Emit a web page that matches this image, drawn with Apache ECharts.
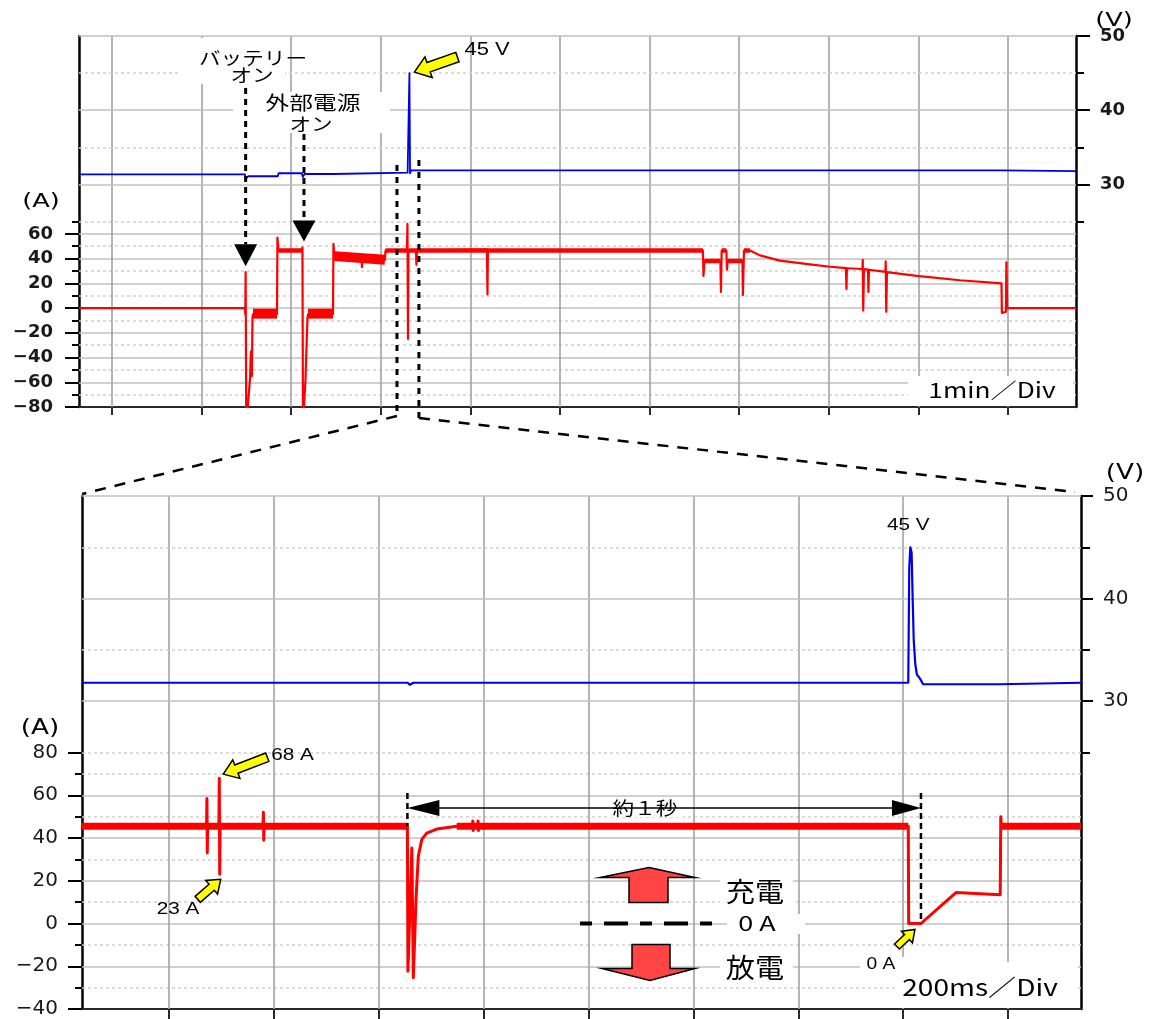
<!DOCTYPE html>
<html>
<head>
<meta charset="utf-8">
<script src="https://cdn.jsdelivr.net/npm/echarts@6/dist/echarts.min.js"></script>
<style>
html,body{margin:0;padding:0;background:#fff}
#c{width:1152px;height:1019px}
</style>
</head>
<body>
<div id="c"></div>
<script>
// ===== Overview record, 1 min/div (time in min, current in A, voltage in V) =====
const ovCurrent = [
  [-0.368,0],[1.484,0],[1.488,-5],[1.492,29],[1.499,-95],[1.518,-95],[1.540,-58],[1.551,-35],[1.562,-55],[1.568,-8],[1.574,-5],
  [1.842,-5],[1.847,57],[1.858,46.5],[2.121,46.5],[2.126,49],[2.132,-95],[2.154,-95],[2.160,-58],[2.171,-32],[2.182,-8],[2.188,-5],
  [2.467,-5],[2.472,52],[2.483,42],[2.785,40.4],[2.790,33],[2.796,40.3],[3.047,39],[3.053,46.5],
  [3.292,46.5],[3.298,68],[3.304,-25],[3.309,46.5],[3.393,46.5],[3.398,35],[3.404,46.5],
  [4.185,47.5],[4.191,11],[4.196,46.5],
  [6.596,46.5],[6.602,26],[6.613,38],[6.791,38],[6.797,13],[6.805,46.5],[6.858,46.5],[6.864,31],[6.872,38],
  [7.037,38],[7.042,10.5],[7.054,46.5],[7.121,46.5],
  [7.140,45],[7.232,42.6],[7.455,38.4],[7.790,35.3],[7.991,33.6],[8.192,32.3],[8.198,15.5],[8.203,32.2],
  [8.376,31.6],[8.380,39],[8.385,-2],[8.393,31.5],[8.438,31.1],[8.443,13],[8.449,31.0],
  [8.633,29.2],[8.636,37.7],[8.642,-3],[8.650,29.1],[8.984,26],[9.464,22.5],[9.928,20],
  [9.933,-4],[9.978,-3],[9.983,37],[9.992,0],[10.76,0]
];
// steady charging plateaus (drawn a little heavier)
const ovCurrentPlateaus = [
  [[1.858,46.5],[2.121,46.5]],
  [[3.053,46.5],[3.292,46.5]],
  [[3.309,46.5],[6.596,46.5]],
  [[6.613,38],[6.791,38]],
  [[6.805,46.5],[6.858,46.5]],
  [[6.872,38],[7.037,38]],
  [[7.054,46.5],[7.121,46.5]]
];
// ripple bands (thick noisy sections)
const ovCurrentBands = [
  [[1.574,-4.5],[1.842,-4.5]],
  [[2.188,-4.5],[2.467,-4.5]],
  [[2.483,42],[3.047,39]]
];
const ovVoltage = [
  [-0.368,31.35],[1.484,31.35],[1.490,30.7],[1.52,31.1],[1.85,31.1],[1.86,31.5],[2.12,31.5],[2.13,31.0],[2.15,31.4],
  [2.47,31.4],[2.48,31.6],[3.30,31.6],[3.315,31.5],[3.320,45],[3.327,31.5],[3.34,31.9],[9.93,31.9],[9.94,31.8],[10.76,31.8]
];
const ovTimeTicks = [0,1,2,3,4,5,6,7,8,9,10];
const ovCurrentTicks = [-80,-60,-40,-20,0,20,40,60];
const ovCurrentMinorTicks = [-70,-50,-30,-10,10,30,50,70];
const ovSolidCurrentLines = [-60,-40,-20,0,20,40,60];
const ovDottedCurrentLines = [-70,-50,-30,-10,10,30,50,70];

// ===== Zoomed record, 200 ms/div (time in ms) =====
const zmCurrent = [
  [-166,45.5],[71.5,45.5],[72.2,58.5],[72.9,33],[73.6,45.5],[95.0,45.5],[95.8,68],[96.6,23],[97.4,45.5],
  [179.2,45.5],[179.9,52],[180.6,39],[181.3,45.5],
  [454.5,45.5],[455.5,-22.3],[456.3,-22.3],[463,35.3],[465.8,-25.4],[470.9,11.2],[475.3,31.4],[481.8,39.2],[491.3,42.3],[510.4,44.2],[548.5,45.5],
  [578.5,45.5],[579.2,48],[579.9,43.5],[580.6,45.5],[588.5,45.5],[589.2,48],[589.9,43.5],[590.6,45.5],
  [1409.6,45.5],[1410.4,0],[1433.8,0],[1500.5,14.5],[1585,13.5],[1586,50],[1587.2,45.5],[1739,45.5]
];
const zmCurrentBands = [
  [[-166,45.5],[454.5,45.5]],
  [[548.5,45.5],[1409.6,45.5]],
  [[1587.2,45.5],[1739,45.5]]
];
const zmVoltage = [
  [-166,31.8],[455,31.8],[459,31.6],[466,31.8],[1409.6,31.8],[1411.5,43],[1413.5,45],[1416,44.5],[1418,40],
  [1420,36],[1423,33.6],[1426,32.6],[1432,32.2],[1438,31.65],[1584,31.65],[1586,31.8],[1739,31.8]
];
const zmTimeTicks = [0,200,400,600,800,1000,1200,1400,1600];
const zmCurrentTicks = [-40,-20,0,20,40,60,80];
const zmCurrentMinorTicks = [-30,-10,10,30,50,70];
const zmSolidCurrentLines = [-20,0,20,40,60];
const zmDottedCurrentLines = [-30,-10,10,30,50,70,80];

// voltage scale (shared by both panels)
const voltageTicks = [30,40,50];
const voltageMinorTicks = [25,35,45];
const voltageSolidLines = [30,40,50];
const voltageDottedLines = [35,45];

const RED = '#ff0000', BLUE = '#0000e6';
const SOLID = {color:'#c0c0c0', width:1.5, type:'solid'};
const DOTTED = {color:'#cfcfcf', width:1.5, type:[3,3]};
const VERT = {color:'#a3a3a3', width:1.6, type:'solid'};
const JP = '"Noto Sans CJK JP", sans-serif';
const LAT = '"Liberation Sans", Arial, sans-serif';
const NUM = '"DejaVu Sans", sans-serif';

const minus = v => v < 0 ? '\u2212' + Math.abs(v) : String(v);

function xAxis(gridIndex, min, max, ticks, tickLen) {
  return {
    type:'value', gridIndex, min, max, position:'bottom',
    axisLine:{show:true, onZero:false, lineStyle:{color:'#2a2a2a', width:2}},
    axisTick:{show:true, inside:false, customValues:ticks, length:tickLen, lineStyle:{color:'#2a2a2a', width:2}},
    axisLabel:{show:false}, splitLine:{show:false}
  };
}
function yAxis(gridIndex, position, min, max, ticks, tickLen, labels, font, margin, fmt) {
  return {
    type:'value', gridIndex, position, min, max,
    axisLine:{show:!!labels, onZero:false, lineStyle:{color:'#000', width:2.5}},
    axisTick:{show:true, inside:false, customValues:ticks, length:tickLen, lineStyle:{color:'#000', width:2}},
    axisLabel: labels ? Object.assign({show:true, customValues:labels, formatter:fmt || minus, color:'#1a1a1a', margin}, font) : {show:false},
    splitLine:{show:false}
  };
}
function line(xi, yi, data, color, width, z) {
  return {type:'line', xAxisIndex:xi, yAxisIndex:yi, data, symbol:'none', showSymbol:false,
    lineStyle:{color, width, cap:'butt', join:'round'}, itemStyle:{color}, z:z||3, silent:true, animation:false, clip:true};
}
function rules(xi, yi, items) {
  return {type:'line', xAxisIndex:xi, yAxisIndex:yi, data:[], z:1, silent:true, animation:false,
    markLine:{silent:true, symbol:['none','none'], label:{show:false}, animation:false, z:1, data:items}};
}
const hRules = (vals, style) => vals.map(v => ({yAxis:v, lineStyle:style}));
const vRules = (vals, style) => vals.map(v => ({xAxis:v, lineStyle:style}));

const topLabelFont = {fontFamily:NUM, fontWeight:'bold', fontSize:18};
const botLabelFont = {fontFamily:NUM, fontSize:20};

const series = [
  rules(0, 0, hRules(ovSolidCurrentLines, SOLID).concat(hRules(ovDottedCurrentLines, DOTTED), vRules(ovTimeTicks, VERT))),
  rules(0, 2, hRules(voltageSolidLines, SOLID).concat(hRules(voltageDottedLines, DOTTED))),
  rules(1, 4, hRules(zmSolidCurrentLines, SOLID).concat(hRules(zmDottedCurrentLines, DOTTED), vRules(zmTimeTicks, VERT))),
  rules(1, 6, hRules(voltageSolidLines, SOLID).concat(hRules(voltageDottedLines, DOTTED))),
  line(0, 2, ovVoltage, BLUE, 1.8),
  line(0, 0, ovCurrent, RED, 2.2)
];
ovCurrentPlateaus.forEach(seg => series.push(line(0, 0, seg, RED, 4.5)));
ovCurrentBands.forEach(seg => series.push(line(0, 0, seg, RED, 10)));
series.push(line(1, 6, zmVoltage, BLUE, 2.2));
series.push(line(1, 4, zmCurrent, RED, 3));
zmCurrentBands.forEach(seg => series.push(line(1, 4, seg, RED, 7)));

const chart = echarts.init(document.getElementById('c'));
chart.setOption({
  backgroundColor:'#fff',
  animation:false,
  grid:[
    {left:79, top:36, width:997, height:371},
    {left:82, top:496, width:999, height:514}
  ],
  xAxis:[
    xAxis(0, -0.368, 10.76, ovTimeTicks, 8),
    xAxis(1, -166, 1739, zmTimeTicks, 10)
  ],
  yAxis:[
    yAxis(0, 'left', -80, 220, ovCurrentTicks, 14, ovCurrentTicks, topLabelFont, 26),
    yAxis(0, 'left', -80, 220, ovCurrentMinorTicks, 7, null),
    yAxis(0, 'right', 0, 50, voltageTicks, 14, voltageTicks, topLabelFont, 24, String),
    yAxis(0, 'right', 0, 50, voltageMinorTicks, 8, null),
    yAxis(1, 'left', -40, 200, zmCurrentTicks, 14, zmCurrentTicks, botLabelFont, 24),
    yAxis(1, 'left', -40, 200, zmCurrentMinorTicks, 7, null),
    yAxis(1, 'right', 0, 50, voltageTicks, 12, voltageTicks, botLabelFont, 22, String),
    yAxis(1, 'right', 0, 50, voltageMinorTicks, 9, null)
  ],
  series
});

// ---- annotations, anchored to the data through the axes ----
const P = (xi, yi, x, y) => chart.convertToPixel({xAxisIndex:xi, yAxisIndex:yi}, [x, y]);
const g = [];
function rect(x, y, w, h) { g.push({type:'rect', z:2, silent:true, shape:{x, y, width:w, height:h}, style:{fill:'#fff'}}); }
function text(str, x, y, size, family, opts) {
  opts = opts || {};
  g.push({type:'text', z:20, silent:true, x, y, scaleX:opts.sx || 1,
    style:{text:str, fill:'#000', font:(opts.weight || 'normal') + ' ' + size + 'px ' + family,
      align:opts.align || 'center', verticalAlign:'middle'}});
}
function seg(x1, y1, x2, y2, w, dash) {
  g.push({type:'line', z:20, silent:true, shape:{x1, y1, x2, y2}, style:{stroke:'#000', lineWidth:w, lineDash:dash || null}});
}
function poly(points, fill, stroke, lw) {
  g.push({type:'polygon', z:20, silent:true, shape:{points}, style:{fill, stroke:stroke || null, lineWidth:lw || 0}});
}
function yellowArrow(tail, tip, sw, hw, hl) {
  const dx = tip[0]-tail[0], dy = tip[1]-tail[1], L = Math.hypot(dx, dy);
  const ux = dx/L, uy = dy/L, nx = -uy, ny = ux;
  const nk = [tip[0]-ux*hl, tip[1]-uy*hl];
  const p = (b, s) => [b[0]+nx*s, b[1]+ny*s];
  poly([p(tail, sw/2), p(nk, sw/2), p(nk, hw/2), tip, p(nk, -hw/2), p(nk, -sw/2), p(tail, -sw/2)], '#ffff00', '#000', 1.5);
}
function downTriangle(x, tipY, w, h) { poly([[x-w/2, tipY-h], [x+w/2, tipY-h], [x, tipY]], '#000'); }

// white label boxes over the grid
rect(181, 38, 104, 46);
rect(233, 92, 157, 41);
rect(908, 376, 165, 30);
rect(607, 799, 76, 18);
rect(720, 874, 73, 36);
rect(727, 914, 78, 20);
rect(720, 953, 73, 32);
rect(860, 957, 45, 17);
rect(895, 962, 183, 46);

// overview panel labels
text('(A)', 41, 202, 19, NUM, {sx:1.35});
text('(V)', 1114, 21, 19, NUM, {sx:1.35});
text('1min／Div', 992, 390, 21, JP, {sx:1.25});
text('バッテリー', 253, 58, 18, JP, {sx:1.2});
text('オン', 252, 75, 18, JP, {sx:1.2});
text('外部電源', 313, 103, 19, JP, {sx:1.25});
text('オン', 311, 124, 18, JP, {sx:1.2});

// battery / external supply switch-on markers
const bat = P(0, 0, 1.492, 29);
seg(bat[0], 88, bat[0], bat[1]-28, 3, [6,5]);
downTriangle(bat[0], bat[1]-6, 23, 22);
const ext = P(0, 0, 2.143, 49);
seg(ext[0], 134, ext[0], ext[1]-28, 3, [6,5]);
downTriangle(ext[0], ext[1]-6, 23, 21);

// 45 V surge in the overview
const ovPeak = P(0, 2, 3.320, 45);
const tipA = [ovPeak[0]+5, ovPeak[1]-1];
const tailA = [tipA[0]+43, tipA[1]-15];
yellowArrow(tailA, tipA, 10, 22, 15);
text('45 V', tailA[0]+7, 50, 18, LAT, {align:'left', sx:1.22});

// window that is expanded below
const wl = P(0, 0, 3.181, -80), wr = P(0, 0, 3.426, -80);
seg(wl[0], 165, wl[0], wl[1]+9, 3, [6,6]);
seg(wr[0], 160, wr[0], wr[1]+11, 3, [6,6]);
const zl = P(1, 6, -166, 50), zr = P(1, 6, 1739, 50);
seg(wl[0], wl[1]+9, zl[0], zl[1]-2, 2.5, [11,9]);
seg(wr[0], wr[1]+11, zr[0]-6, zr[1]-4, 2.5, [11,9]);

// zoomed panel labels
text('(A)', 40, 729, 21, NUM, {sx:1.25});
text('(V)', 1125, 474, 21, NUM, {sx:1.25});
text('200ms／Div', 980, 987, 23, JP, {sx:1.22});

const zmPeak = P(1, 6, 1413.5, 45);
text('45 V', zmPeak[0]-2, 525, 17, LAT, {sx:1.22});

const s68 = P(1, 4, 95.8, 68);
const tip68 = [s68[0]+4, s68[1]-4], tail68 = [tip68[0]+44, tip68[1]-17];
yellowArrow(tail68, tip68, 9, 20, 14);
text('68 A', tail68[0]+4, 755, 17, LAT, {align:'left', sx:1.22});

const s23 = P(1, 4, 96.6, 23);
const tip23 = [s23[0]+1, s23[1]+5], tail23 = [tip23[0]-23, tip23[1]+20];
yellowArrow(tail23, tip23, 8, 18, 12);
text('23 A', 178, 909, 17, LAT, {sx:1.22});

const z0 = P(1, 4, 1433.8, 0);
const tip0 = [z0[0]-6, z0[1]+6], tail0 = [tip0[0]-18, tip0[1]+17];
yellowArrow(tail0, tip0, 7, 16, 11);
text('0 A', 881, 965, 16, LAT, {sx:1.2});

// about one second without charging
const aL = P(1, 4, 454.5, 54), aR = P(1, 4, 1433.8, 54);
seg(aL[0]+30, aL[1], aR[0]-28, aR[1], 1.5);
poly([[aL[0], aL[1]], [aL[0]+32, aL[1]-8], [aL[0]+32, aL[1]+8]], '#000');
poly([[aR[0], aR[1]], [aR[0]-29, aR[1]-8], [aR[0]-29, aR[1]+8]], '#000');
seg(aL[0], aL[1]-15, aL[0], P(1, 4, 0, 45.5)[1], 2.5, [6,4]);
seg(aR[0], aR[1]-15, aR[0], z0[1], 2.5, [6,4]);
text('約１秒', 645, 808, 18, JP, {sx:1.2});

// charge / discharge legend around the 0 A level
const y0 = P(1, 4, 0, 0)[1];
const cx = 649;
poly([[cx, y0-56], [cx+46, y0-46], [cx+19, y0-46], [cx+19, y0-21], [cx-20, y0-21], [cx-20, y0-46], [cx-49, y0-46]], '#ff4444', '#000', 1.5);
poly([[cx-17, y0+21], [cx+21, y0+21], [cx+21, y0+45], [cx+46, y0+45], [cx+1, y0+57], [cx-47, y0+45], [cx-17, y0+45]], '#ff4444', '#000', 1.5);
g.push({type:'line', z:20, silent:true, shape:{x1:580, y1:y0, x2:715, y2:y0}, style:{stroke:'#000', lineWidth:4, lineDash:[12,12,24,12]}});
text('充電', 755, 892, 27, JP, {sx:1.08});
text('0 A', 757, y0, 20, JP, {sx:1.35});
text('放電', 755, 968, 27, JP, {sx:1.08});

chart.setOption({graphic:{elements:g}});
</script>
</body>
</html>
